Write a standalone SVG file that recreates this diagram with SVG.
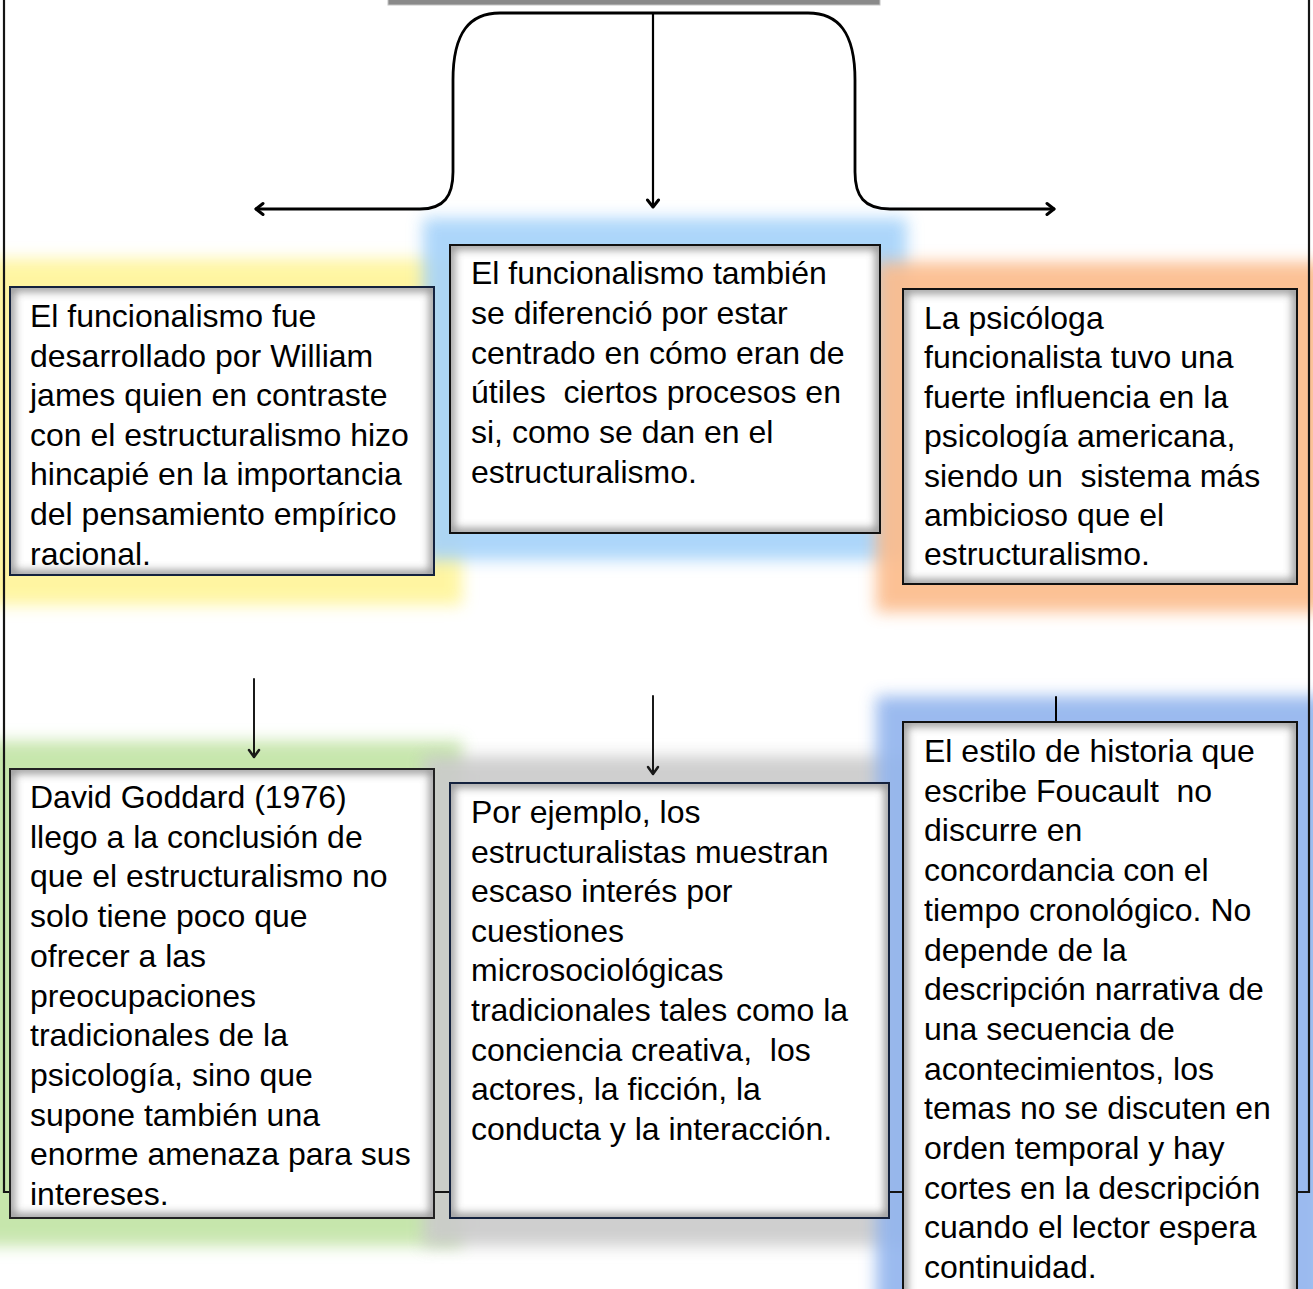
<svg xmlns="http://www.w3.org/2000/svg" width="1313" height="1289" viewBox="0 0 1313 1289">
<style>
.t{font-family:"Liberation Sans",Arial,sans-serif;font-size:32px;fill:#000;white-space:pre}
.fill{fill:#fff}
.sh{fill:none;stroke:#6e6e6e;stroke-width:9;filter:url(#soft);opacity:0.75}
.bd{fill:none;stroke-width:2}
.glow{filter:url(#blur);opacity:0.92}
.con{fill:none;stroke:#000;stroke-linecap:round;stroke-linejoin:round}
</style>
<defs>
<filter id="blur" x="-20%" y="-20%" width="140%" height="140%">
<feGaussianBlur stdDeviation="8"/>
</filter>
<filter id="soft" x="-10%" y="-10%" width="120%" height="120%">
<feGaussianBlur stdDeviation="4"/>
</filter>
<clipPath id="cA"><rect x="10" y="287" width="424" height="288"/></clipPath>
<clipPath id="cB"><rect x="450" y="245" width="430" height="288"/></clipPath>
<clipPath id="cC"><rect x="903" y="289" width="394" height="295"/></clipPath>
<clipPath id="cD"><rect x="10" y="769" width="424" height="449"/></clipPath>
<clipPath id="cE"><rect x="450" y="783" width="439" height="435"/></clipPath>
<clipPath id="cF"><rect x="903" y="722" width="394" height="590"/></clipPath>
<marker id="ah" markerUnits="userSpaceOnUse" viewBox="-10 -8 12 16" refX="0" refY="0" markerWidth="12" markerHeight="16" orient="auto-start-reverse">
<path d="M-7,-5.5 L0,0 L-7,5.5" fill="none" stroke="#000" stroke-width="3" stroke-linecap="round" stroke-linejoin="round"/>
</marker>
<marker id="ahs" markerUnits="userSpaceOnUse" viewBox="-10 -8 12 16" refX="0" refY="0" markerWidth="12" markerHeight="16" orient="auto">
<path d="M-7,-5 L0,0 L-7,5" fill="none" stroke="#1a1a1a" stroke-width="2.5" stroke-linecap="round" stroke-linejoin="round"/>
</marker>
</defs>
<rect width="1313" height="1289" fill="#fff"/>

<g id="glows">
<rect class="glow" x="-20" y="259" width="482" height="346" fill="#fff59a"/>
<rect class="glow" x="423" y="218" width="484" height="342" fill="#a6d3fa"/>
<rect class="glow" x="876" y="262" width="450" height="350" fill="#fcbc8c"/>
<rect class="glow" x="-20" y="741" width="482" height="505" fill="#c2e4a6"/>
<rect class="glow" x="423" y="756" width="493" height="490" fill="#cbcbcb"/>
<rect class="glow" x="876" y="696" width="450" height="630" fill="#93b5ee"/>
</g>

<g id="frame">
<path d="M4,0 V1192 H1309 V0" fill="none" stroke="#151515" stroke-width="2.2"/>
<rect x="388" y="-2" width="492" height="7" fill="#8a8a8a" stroke="#c4c4c4" stroke-width="1"/>
</g>

<g id="connectors">
<path class="con" d="M256,209 L420,209 C444,209 453,196 453,172 L453,80 C453,32 470,13 500,13 L808,13 C838,13 855,32 855,80 L855,172 C855,196 864,209 890,209 L1054,209" stroke-width="2.8" marker-start="url(#ah)" marker-end="url(#ah)"/>
<path class="con" d="M653,13 L653,207" stroke-width="2.2" marker-end="url(#ah)"/>
<path class="con" d="M254,679 L254,757" stroke="#1a2a1a" stroke-width="1.8" marker-end="url(#ahs)"/>
<path class="con" d="M653,696 L653,774" stroke="#222" stroke-width="1.8" marker-end="url(#ahs)"/>
<path class="con" d="M1056,697 L1056,722" stroke="#1c2a48" stroke-width="2"/>
</g>

<g id="nodeA">
<rect class="fill" x="10" y="287" width="424" height="288"/>
<rect class="sh" x="10" y="287" width="424" height="288" clip-path="url(#cA)"/>
<rect class="bd" x="10" y="287" width="424" height="288" stroke="#14223e"/>
<text class="t" x="30" y="327"><tspan x="30">El funcionalismo fue</tspan><tspan x="30" dy="39.6">desarrollado por William</tspan><tspan x="30" dy="39.6">james quien en contraste</tspan><tspan x="30" dy="39.6">con el estructuralismo hizo</tspan><tspan x="30" dy="39.6">hincapié en la importancia</tspan><tspan x="30" dy="39.6">del pensamiento empírico</tspan><tspan x="30" dy="39.6">racional.</tspan></text>
</g>

<g id="nodeB">
<rect class="fill" x="450" y="245" width="430" height="288"/>
<rect class="sh" x="450" y="245" width="430" height="288" clip-path="url(#cB)"/>
<rect class="bd" x="450" y="245" width="430" height="288" stroke="#111"/>
<text class="t" x="471" y="284"><tspan x="471">El funcionalismo también</tspan><tspan x="471" dy="39.8">se diferenció por estar</tspan><tspan x="471" dy="39.8">centrado en cómo eran de</tspan><tspan x="471" dy="39.8">útiles  ciertos procesos en</tspan><tspan x="471" dy="39.8">si, como se dan en el</tspan><tspan x="471" dy="39.8">estructuralismo.</tspan></text>
</g>

<g id="nodeC">
<rect class="fill" x="903" y="289" width="394" height="295"/>
<rect class="sh" x="903" y="289" width="394" height="295" clip-path="url(#cC)"/>
<rect class="bd" x="903" y="289" width="394" height="295" stroke="#111"/>
<text class="t" x="924" y="329"><tspan x="924">La psicóloga</tspan><tspan x="924" dy="39.4">funcionalista tuvo una</tspan><tspan x="924" dy="39.4">fuerte influencia en la</tspan><tspan x="924" dy="39.4">psicología americana,</tspan><tspan x="924" dy="39.4">siendo un  sistema más</tspan><tspan x="924" dy="39.4">ambicioso que el</tspan><tspan x="924" dy="39.4">estructuralismo.</tspan></text>
</g>

<g id="nodeD">
<rect class="fill" x="10" y="769" width="424" height="449"/>
<rect class="sh" x="10" y="769" width="424" height="449" clip-path="url(#cD)"/>
<rect class="bd" x="10" y="769" width="424" height="449" stroke="#222"/>
<text class="t" x="30" y="808"><tspan x="30">David Goddard (1976)</tspan><tspan x="30" dy="39.7">llego a la conclusión de</tspan><tspan x="30" dy="39.7">que el estructuralismo no</tspan><tspan x="30" dy="39.7">solo tiene poco que</tspan><tspan x="30" dy="39.7">ofrecer a las</tspan><tspan x="30" dy="39.7">preocupaciones</tspan><tspan x="30" dy="39.7">tradicionales de la</tspan><tspan x="30" dy="39.7">psicología, sino que</tspan><tspan x="30" dy="39.7">supone también una</tspan><tspan x="30" dy="39.7">enorme amenaza para sus</tspan><tspan x="30" dy="39.7">intereses.</tspan></text>
</g>

<g id="nodeE">
<rect class="fill" x="450" y="783" width="439" height="435"/>
<rect class="sh" x="450" y="783" width="439" height="435" clip-path="url(#cE)"/>
<rect class="bd" x="450" y="783" width="439" height="435" stroke="#14223e"/>
<text class="t" x="471" y="823"><tspan x="471">Por ejemplo, los</tspan><tspan x="471" dy="39.6">estructuralistas muestran</tspan><tspan x="471" dy="39.6">escaso interés por</tspan><tspan x="471" dy="39.6">cuestiones</tspan><tspan x="471" dy="39.6">microsociológicas</tspan><tspan x="471" dy="39.6">tradicionales tales como la</tspan><tspan x="471" dy="39.6">conciencia creativa,  los</tspan><tspan x="471" dy="39.6">actores, la ficción, la</tspan><tspan x="471" dy="39.6">conducta y la interacción.</tspan></text>
</g>

<g id="nodeF">
<rect class="fill" x="903" y="722" width="394" height="590"/>
<rect class="sh" x="903" y="722" width="394" height="590" clip-path="url(#cF)"/>
<rect class="bd" x="903" y="722" width="394" height="590" stroke="#111"/>
<text class="t" x="924" y="762"><tspan x="924">El estilo de historia que</tspan><tspan x="924" dy="39.7">escribe Foucault  no</tspan><tspan x="924" dy="39.7">discurre en</tspan><tspan x="924" dy="39.7">concordancia con el</tspan><tspan x="924" dy="39.7">tiempo cronológico. No</tspan><tspan x="924" dy="39.7">depende de la</tspan><tspan x="924" dy="39.7">descripción narrativa de</tspan><tspan x="924" dy="39.7">una secuencia de</tspan><tspan x="924" dy="39.7">acontecimientos, los</tspan><tspan x="924" dy="39.7">temas no se discuten en</tspan><tspan x="924" dy="39.7">orden temporal y hay</tspan><tspan x="924" dy="39.7">cortes en la descripción</tspan><tspan x="924" dy="39.7">cuando el lector espera</tspan><tspan x="924" dy="39.7">continuidad.</tspan></text>
</g>
</svg>
